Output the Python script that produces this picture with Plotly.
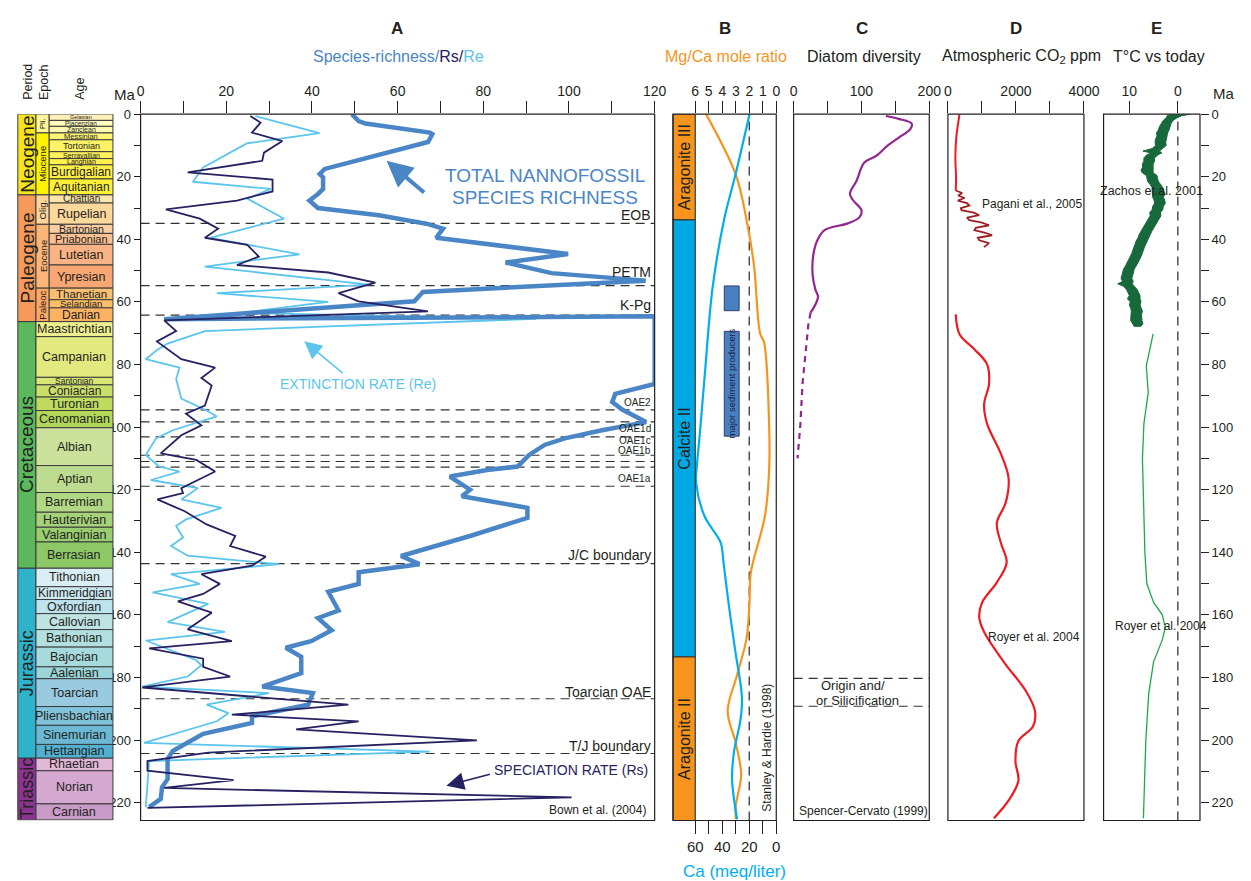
import plotly.graph_objects as go

W, H = 1251, 881
FONT = "Liberation Sans, Arial, Helvetica, sans-serif"
INK = "#231f20"

# ---------------- geological time scale (Ma) ----------------
period_names = ["Neogene", "Paleogene", "Cretaceous", "Jurassic", "Triassic"]
period_top = [0.0, 25.8, 66.3, 145.1, 205.8]
period_base = [25.8, 66.3, 145.1, 205.8, 225.5]

epoch_names = ["Pli.", "Miocene", "Olig.", "Eocene", "Paleoc"]
epoch_top = [0.0, 6.0, 25.8, 35.2, 55.6]
epoch_base = [6.0, 25.8, 35.2, 55.6, 66.3]

age_names = ["Gelasian", "Piacenzian", "Zanclean", "Messinian", "Tortonian", "Serravallian",
             "Langhian", "Burdigalian", "Aquitanian", "Chattian", "Rupelian", "Bartonian",
             "Priabonian", "Lutetian", "Ypresian", "Thanetian", "Selandian", "Danian",
             "Maastrichtian", "Campanian", "Santonian", "Coniacian", "Turonian", "Cenomanian",
             "Albian", "Aptian", "Barremian", "Hauterivian", "Valanginian", "Berrasian",
             "Tithonian", "Kimmeridgian", "Oxfordian", "Callovian", "Bathonian", "Bajocian",
             "Aalenian", "Toarcian", "Pliensbachian", "Sinemurian", "Hettangian", "Rhaetian",
             "Norian", "Carnian"]
age_base = [2.0, 3.9, 6.0, 8.2, 12.0, 14.2, 16.2, 20.7, 25.8, 28.4,
            35.2, 38.1, 41.6, 48.2, 55.6, 59.3, 61.9, 66.3, 71.1, 84.1,
            86.5, 90.4, 94.7, 100.2, 112.3, 120.9, 127.2, 132.0, 136.7, 145.1,
            151.0, 155.1, 159.6, 164.7, 170.3, 176.6, 180.4, 189.3, 195.3, 201.4,
            205.8, 209.8, 220.4, 225.5]
age_top = [0.0] + age_base[:-1]

# ---------------- A: nannofossil species richness (Bown et al. 2004) ----------------
total_ma = [0.0, 2.2, 3.0, 5.9, 6.4, 8.9, 17.5, 19.1, 20.2, 23.9, 25.5, 27.6, 30.0, 32.3,
            35.0, 36.6, 39.5, 44.7, 47.4, 50.8, 53.2, 56.8, 59.8, 65.5, 64.6, 86.2, 89.4,
            92.0, 94.4, 98.4, 101.0, 103.6, 105.7, 108.9, 112.6, 113.7, 115.8, 120.0, 122.1,
            125.8, 129.0, 134.8, 141.2, 143.8, 146.4, 150.1, 152.6, 158.6, 161.0, 164.9,
            168.4, 170.5, 173.4, 178.6, 182.9, 185.0, 188.7, 192.4, 194.5, 198.0, 203.5,
            206.1, 212.5, 215.1, 218.8, 221.4]
total_n = [49.3, 50.9, 52.5, 67.5, 68.1, 67.1, 43.0, 41.8, 42.6, 42.6, 41.4, 39.4, 41.4, 55.6,
           66.7, 70.6, 69.0, 99.8, 85.2, 95.9, 117.9, 65.9, 63.9, 5.5, 120.0, 120.0, 110.8,
           110.1, 112.4, 118.0, 107.7, 99.0, 94.3, 90.7, 88.0, 80.9, 72.2, 76.9, 75.0,
           90.3, 90.3, 76.9, 60.8, 65.1, 50.9, 50.9, 43.8, 46.2, 41.4, 44.6,
           39.8, 33.9, 37.5, 37.5, 28.4, 40.2, 39.1, 26.0, 26.0, 14.6, 7.5,
           6.3, 6.3, 5.0, 4.7, 2.0]

rs_ma = [0.6, 2.7, 5.9, 8.6, 12.3, 14.9, 18.6, 20.9, 24.7, 27.6,
         30.4, 33.4, 36.6, 39.5, 41.8, 45.5, 48.2, 50.6, 53.8, 57.2,
         59.8, 63.0, 65.9, 69.3, 72.6, 78.3, 81.0, 84.3, 86.7, 93.1,
         95.7, 99.4, 102.6, 108.4, 110.5, 114.2, 119.5, 121.1, 123.1, 126.9,
         131.1, 134.8, 138.0, 141.4, 144.3, 147.0, 150.1, 153.3, 155.7, 159.3,
         164.6, 168.4, 170.7, 174.0, 176.6, 179.7, 183.2, 188.7, 191.9, 194.0,
         196.6, 200.1, 204.0, 206.7, 209.8, 212.8, 215.3, 218.3, 221.7]
rs_n = [25.6, 28.0, 26.0, 33.1, 28.8, 28.4, 11.0, 30.8, 30.8, 22.5,
        5.9, 13.8, 18.1, 15.0, 24.9, 27.6, 22.5, 43.8, 54.8, 46.2,
        50.9, 67.1, 5.5, 8.3, 3.8, 9.5, 17.4, 14.2, 16.6, 15.0,
        10.6, 14.2, 9.5, 4.7, 13.0, 17.4, 9.5, 9.9, 3.9, 10.3,
        15.4, 22.1, 20.9, 29.2, 26.0, 14.2, 18.5, 14.6, 8.7, 16.6,
        11.0, 21.3, 2.0, 14.6, 14.6, 20.9, 0.4, 48.5, 21.3, 50.9,
        36.3, 78.5, 15.8, 1.6, 1.6, 21.7, 5.5, 100.6, 1.6]

re_ma = [0.6, 6.1, 9.3, 17.0, 21.6, 23.9, 27.0, 33.4, 39.5, 41.8,
         44.8, 48.7, 54.5, 57.2, 60.0, 63.5, 65.4, 69.3, 73.3, 75.6,
         78.3, 81.0, 84.6, 90.9, 94.7, 96.6, 101.0, 103.6, 108.9, 112.6,
         114.2, 116.9, 119.5, 123.1, 125.8, 129.5, 131.6, 135.3, 138.0, 141.1,
         143.8, 147.0, 150.1, 152.8, 156.5, 162.3, 165.4, 168.2, 174.5, 176.1,
         179.7, 182.9, 185.0, 188.7, 191.4, 194.0, 200.9, 203.7, 206.7, 221.5]
re_n = [26.8, 41.8, 24.9, 14.6, 12.2, 30.4, 24.9, 33.5, 16.2, 25.6,
        37.1, 15.0, 53.3, 17.8, 43.8, 23.3, 92.3, 15.0, 6.3, 3.6,
        1.2, 9.1, 8.3, 9.5, 15.4, 17.8, 7.5, 3.6, 1.2, 4.3,
        9.1, 2.4, 13.4, 9.5, 18.9, 10.6, 8.3, 9.9, 7.1, 11.0,
        32.3, 7.1, 13.8, 2.8, 15.8, 6.3, 19.7, 1.2, 13.0, 14.2,
        11.0, 0.4, 30.0, 15.4, 20.5, 17.8, 0.8, 67.5, 2.0, 1.2]

event_names = ["EOB", "PETM", "K-Pg", "OAE2", "OAE1d", "OAE1c", "OAE1b", "", "", "OAE1a",
               "J/C boundary", "Toarcian OAE", "T/J boundary"]
event_ma = [34.9, 54.8, 64.2, 94.5, 98.3, 103.1, 109.0, 111.0, 112.8, 118.9, 143.6, 186.8, 204.3]

# ---------------- B: seawater chemistry (Stanley & Hardie 1998) ----------------
sea_names = ["Aragonite III", "Calcite II", "Aragonite II"]
sea_top = [0.0, 33.8, 173.4]
sea_base = [33.8, 173.4, 225.7]

mgca_ma = [0, 19.3, 33.8, 48.3, 70, 73, 99, 113.8, 128.4, 142.8, 147, 157.4, 167.5,
           179.2, 190.8, 201, 211, 221, 225.3]
mgca = [5.2, 3.0, 2.2, 1.65, 1.2, 0.9, 0.53, 0.53, 0.84, 1.7, 1.9, 2.0, 2.2,
        2.9, 3.6, 3.0, 2.6, 3.0, 3.0]

ca_ma = [0, 19.3, 33.8, 55.6, 84.6, 103.5, 110.8, 118, 128.4, 137, 142.8, 157.4, 172,
         186.5, 193.8, 204, 212.8, 225.3]
ca = [19.8, 30.2, 38.7, 47.2, 53.2, 56.9, 58.5, 59.3, 53.2, 41.1, 39.2, 35, 30.2,
      25.4, 26.6, 31.4, 32.7, 29]

producer_top = [54.9, 69.4]
producer_base = [62.8, 102.9]

# ---------------- C: diatom diversity (Spencer-Cervato 1999) ----------------
diatom_ma = [0.6, 1.5, 3.0, 4.8, 7.5, 10.0, 13.3, 15.5, 21.2, 25.4, 27.6, 30.7, 33.0,
             34.9, 37.0, 40.3, 45.0, 51.3, 56.0, 58.3, 60.9, 63.4]
diatom_n = [136, 155, 174, 172, 155, 139, 122, 104, 93, 83, 88, 100, 97,
            80, 46, 35, 29, 28, 32, 36, 32, 25]
diatom_early_ma = [63.4, 67.2, 76.8, 86.3, 99.0, 110.0]
diatom_early_n = [25, 21.7, 17.4, 13.0, 10.0, 5.8]
origin_ma = [180.3, 189.2]

# ---------------- D: atmospheric CO2 ----------------
co2_young_ma = [0, 3, 6, 10, 15, 20, 24.4]
co2_young = [340, 300, 260, 230, 220, 240, 230]
pagani_ma = [24.4, 25.2, 26.0, 26.8, 27.6, 28.4, 29.2, 30.0, 30.7, 31.5, 32.3, 33.1, 33.9,
             34.7, 35.5, 36.3, 37.1, 37.9, 38.7, 39.5, 40.3, 41.2, 42.5]
pagani_co2 = [230, 420, 300, 490, 290, 560, 630, 380, 400, 760, 920, 560, 630,
              1000, 1210, 820, 780, 1100, 1300, 880, 920, 1210, 1060]
royer_co2_ma = [64, 70.4, 75.1, 79.9, 86.2, 92.6, 98.9, 108.4, 116.3, 124.2, 130.6, 136.9,
                143.3, 149.6, 156, 160.7, 165.5, 175, 184.5, 190.8, 195.6, 200.3, 206.7,
                213, 219.3, 225]
royer_co2 = [230, 345, 777, 1150, 1209, 1065, 1150, 1554, 1784, 1698, 1439, 1554,
             1727, 1439, 1007, 921, 1065, 1640, 2302, 2561, 2504, 2072, 1985,
             2072, 1784, 1353]

# ---------------- E: temperature relative to today ----------------
zachos_ma = [0.0, 0.5, 1.2, 2.0, 3.0, 4.0, 5.0, 6.0, 7.0, 8.0, 9.0, 10.0, 11.0, 11.8,
             12.4, 13.0, 14.0, 15.0, 16.0, 17.0, 18.0, 18.8, 19.6, 20.5, 21.5, 22.5,
             23.5, 24.5, 25.5, 26.5, 27.5, 28.5, 29.5, 30.5, 31.5, 32.5, 33.5, 34.5,
             35.5, 36.5, 37.5, 38.5, 39.5, 40.5, 41.5, 42.5, 43.5, 44.5, 45.5, 46.5,
             47.5, 48.5, 49.5, 50.5, 51.5, 52.5, 53.5, 54.2, 55.0, 56.0, 57.0, 58.0,
             59.0, 60.0, 61.0, 62.0, 63.0, 64.0, 65.0, 66.0, 67.0, 67.8]
zachos_warm = [1.4, 2.2, 2.4, 3.0, 3.4, 3.8, 4.0, 4.4, 4.3, 4.6, 4.7, 4.6, 5.3, 7.2,
               5.5, 6.4, 7.0, 7.0, 7.3, 7.3, 7.6, 7.3, 6.5, 6.4, 6.2, 5.7,
               5.3, 5.3, 5.3, 5.2, 4.9, 4.8, 5.2, 5.3, 5.8, 5.7, 6.1, 6.5,
               6.8, 7.2, 7.6, 8.0, 8.2, 8.6, 8.8, 9.1, 9.3, 9.5, 9.8, 10.1,
               10.4, 10.8, 11.2, 11.4, 11.5, 11.7, 11.4, 12.4, 11.2, 10.6, 10.3, 10.0,
               10.4, 9.8, 10.0, 9.7, 9.6, 9.7, 9.7, 9.7, 9.4, 9.0]
zachos_cool = [-2.6, -0.8, 0.2, 1.0, 1.4, 1.6, 1.8, 2.1, 2.2, 2.4, 2.5, 2.4, 3.1, 3.8,
               3.3, 4.1, 4.8, 4.8, 5.1, 5.1, 5.1, 5.1, 4.3, 4.2, 4.0, 3.5,
               3.1, 3.0, 2.6, 3.0, 2.7, 2.6, 3.0, 3.1, 3.6, 3.5, 3.9, 4.3,
               4.6, 5.0, 5.4, 5.8, 6.0, 6.4, 6.6, 6.9, 7.1, 7.3, 7.6, 7.9,
               8.2, 8.6, 9.0, 9.2, 9.3, 9.5, 9.2, 9.4, 9.0, 8.4, 8.1, 7.8,
               7.8, 7.6, 7.8, 7.5, 7.3, 7.5, 7.4, 7.4, 7.2, 7.6]
royer_t_ma = [70.2, 80.4, 88.9, 98.9, 110, 125, 140, 150, 156, 160, 164, 168, 175, 185,
              200, 215, 225]
royer_t = [5.1, 6.5, 6.1, 7.0, 7.3, 7.0, 6.8, 6.4, 5.0, 3.2, 2.6, 3.2, 5.0, 6.0,
           6.6, 6.9, 7.1]

# ---------------- styling ----------------
C_TOTAL, C_RS, C_RE = "#4a86c6", "#262262", "#5bc5ec"
C_ORANGE, C_CYAN = "#f7941d", "#00aeef"
C_CALCITE = "#00a9e4"
C_PURPLE, C_RED, C_DARKRED = "#92278f", "#ed1c24", "#9e1f24"
C_ZACHOS, C_ROYER_T = "#17683a", "#1ea84a"

period_colors = {"Neogene": "#f5e31c", "Paleogene": "#f59a5a", "Cretaceous": "#5cb85c",
                 "Jurassic": "#2fb3ca", "Triassic": "#8c3590"}
epoch_colors = {"Pli.": "#fff59a", "Miocene": "#fff200", "Olig.": "#fdd49a",
                "Eocene": "#fbb579", "Paleoc": "#fba864"}
age_colors = {
    "Gelasian": "#fff1b8", "Piacenzian": "#fffbbd", "Zanclean": "#fff9b0", "Messinian": "#fff475",
    "Tortonian": "#fff266", "Serravallian": "#fff15a", "Langhian": "#fff04e", "Burdigalian": "#fff043",
    "Aquitanian": "#ffef36", "Chattian": "#fde5ab", "Rupelian": "#fdd89b", "Bartonian": "#fbcda3",
    "Priabonian": "#fbc092", "Lutetian": "#f9b384", "Ypresian": "#f8a674", "Thanetian": "#fbbf72",
    "Selandian": "#fcbd67", "Danian": "#fbb263", "Maastrichtian": "#eef08e", "Campanian": "#e2e97f",
    "Santonian": "#d7e575", "Coniacian": "#cbe06a", "Turonian": "#bedb60", "Cenomanian": "#b2d657",
    "Albian": "#cbe19c", "Aptian": "#bedc8f", "Barremian": "#b2d784", "Hauterivian": "#a6d27a",
    "Valanginian": "#9acd70", "Berrasian": "#8dc766", "Tithonian": "#d9eef4", "Kimmeridgian": "#cbe8f1",
    "Oxfordian": "#bfe3ee", "Callovian": "#bee3e3", "Bathonian": "#b3dfe1", "Bajocian": "#a7dadd",
    "Aalenian": "#9bd5da", "Toarcian": "#98cbe0", "Pliensbachian": "#82c2db", "Sinemurian": "#6bb9d5",
    "Hettangian": "#52b0d0", "Rhaetian": "#e2b8d9", "Norian": "#d4a8d0", "Carnian": "#c89ac8"}
age_font = {"Gelasian": 5.5, "Piacenzian": 6.5, "Zanclean": 7, "Messinian": 7.5, "Tortonian": 9,
            "Serravallian": 7, "Langhian": 7, "Burdigalian": 12, "Aquitanian": 12, "Chattian": 10,
            "Bartonian": 10.5, "Priabonian": 11, "Thanetian": 11.5, "Selandian": 9.5, "Danian": 12,
            "Santonian": 8.5, "Coniacian": 12, "Kimmeridgian": 12}

Y_TOP, Y_BOT = 108.0, 820.0
MA_MAX = 225.7
A_LEFT, A_RIGHT = 135.2, 659.3


def fx(p):
    return p / W


def fy(p):
    return 1 - p / H


fig = go.Figure()
shapes = []
ann = []


def add_line(x, y, xa, ya, color, width, shape="linear", dash="solid"):
    fig.add_trace(go.Scatter(x=x, y=y, xaxis=xa, yaxis=ya, mode="lines",
                             line=dict(color=color, width=width, shape=shape, dash=dash),
                             hoverinfo="skip", showlegend=False))


def text(x, y, s, size=13, color=INK, xanchor="center", yanchor="middle", angle=0,
         xref="paper", yref="paper", yshift=0, family=FONT):
    ann.append(dict(x=x, y=y, xref=xref, yref=yref, text=s, showarrow=False,
                    xanchor=xanchor, yanchor=yanchor, textangle=angle, yshift=yshift,
                    font=dict(family=family, size=size, color=color)))


def box_px(x0, x1, y0=Y_TOP, y1=Y_BOT, width=1.2):
    shapes.append(dict(type="rect", xref="paper", yref="paper", x0=fx(x0), x1=fx(x1),
                       y0=fy(y1), y1=fy(y0), line=dict(color=INK, width=width),
                       fillcolor="rgba(0,0,0,0)", layer="above"))


def band_ma(x0, x1, top, base, fill, width=1.0, layer="below"):
    shapes.append(dict(type="rect", xref="paper", yref="y", x0=fx(x0), x1=fx(x1),
                       y0=top, y1=base, fillcolor=fill, layer=layer,
                       line=dict(color="#3a3a3a", width=width)))


# ---------------- time scale column ----------------
for name, t, b in zip(period_names, period_top, period_base):
    band_ma(10, 28.5, t, b, period_colors[name], layer="above")
    text(fx(19.5), (t + b) / 2, name, size=18 if name in ("Jurassic", "Triassic") else 19,
         angle=-90, yref="y")
for name, t, b in zip(epoch_names, epoch_top, epoch_base):
    band_ma(28.5, 42, t, b, epoch_colors[name], layer="above")
    text(fx(35.5), (t + b) / 2, name, size=8 if name == "Pli." else 9.5, angle=-90, yref="y")
for name, t, b in zip(age_names, age_top, age_base):
    cenozoic = b <= epoch_base[-1]
    x0 = 42 if cenozoic else 28.5
    band_ma(x0, 107, t, b, age_colors[name], layer="above")
    text(fx((x0 + 107) / 2), (t + b) / 2, name, size=age_font.get(name, 12.5), yref="y")

text(fx(21), fy(96), "Period", size=12.5, angle=-90, yanchor="bottom")
text(fx(36), fy(96), "Epoch", size=12.5, angle=-90, yanchor="bottom")
text(fx(74), fy(96), "Age", size=12.5, angle=-90, yanchor="bottom")
text(fx(119), fy(88), "Ma", size=15)
text(fx(1239), fy(87), "Ma", size=15)

# ---------------- panel A ----------------
add_line(re_n, re_ma, "x", "y", C_RE, 1.8)
add_line(total_n, total_ma, "x", "y", C_TOTAL, 4.5)
add_line(rs_n, rs_ma, "x", "y", C_RS, 1.8)

label_shift = {"EOB": 8, "PETM": 14, "K-Pg": 10, "OAE2": 7, "OAE1d": -7, "OAE1c": -4,
               "OAE1b": 5, "OAE1a": 8, "J/C boundary": 9, "Toarcian OAE": 7, "T/J boundary": 8}
for name, m in zip(event_names, event_ma):
    shapes.append(dict(type="line", xref="paper", yref="y", x0=fx(A_LEFT), x1=fx(A_RIGHT),
                       y0=m, y1=m, line=dict(color="#333333", width=1.2, dash="9px,6px"),
                       layer="below"))
    if name:
        small = name.startswith("OAE")
        text(fx(A_RIGHT - 2), m, name, size=10 if small else 14, xanchor="right", yref="y",
             yshift=label_shift[name])

text(fx(548), fy(170), "TOTAL NANNOFOSSIL", size=19, color=C_TOTAL)
text(fx(548), fy(192), "SPECIES RICHNESS", size=19, color=C_TOTAL)
text(fx(357), fy(380), "EXTINCTION RATE (Re)", size=14, color=C_RE)
text(fx(655), fy(769), "SPECIATION RATE (Rs)", size=14, color=C_RS, xanchor="right")
text(fx(653), fy(809), "Bown et al. (2004)", size=12, xanchor="right")


def arrow(hx, hy, tx, ty, color, width, size):
    ann.append(dict(x=fx(hx), y=fy(hy), xref="paper", yref="paper", text="", showarrow=True,
                    ax=tx - hx, ay=ty - hy, axref="pixel", ayref="pixel", arrowhead=2,
                    arrowsize=size, arrowwidth=width, arrowcolor=color, standoff=0))


arrow(386, 155, 425, 188, C_TOTAL, 4, 1.3)
arrow(302, 337, 342, 370, C_RE, 1.6, 2.2)
arrow(447, 785, 492, 773, C_RS, 1.6, 2.2)

# ---------------- panel B ----------------
for name, t, b in zip(sea_names, sea_top, sea_base):
    fill = C_CALCITE if name.startswith("Calcite") else C_ORANGE
    band_ma(678, 700.7, t, b, fill, width=1.2, layer="above")
    text(fx(689.5), (t + b) / 2, name, size=16, angle=-90, yref="y")
for t, b in zip(producer_top, producer_base):
    shapes.append(dict(type="rect", xref="x2", yref="y", x0=3.85, x1=2.75, y0=t, y1=b,
                       fillcolor="#4a7fc1", line=dict(color="#2e3f73", width=1), layer="below"))
text(3.3, (producer_top[1] + producer_base[1]) / 2, "major sediment producers", size=9.5,
     color="#1b1f4a", angle=-90, xref="x2", yref="y")
shapes.append(dict(type="line", xref="x2", yref="paper", x0=2, x1=2, y0=fy(Y_BOT), y1=fy(Y_TOP),
                   line=dict(color="#444444", width=1.4, dash="9px,6px"), layer="below"))
add_line(mgca, mgca_ma, "x2", "y", C_ORANGE, 2.2, shape="spline")
add_line(ca, ca_ma, "x3", "y", C_CYAN, 2.2, shape="spline")
text(fx(773), fy(813), "Stanley &amp; Hardie (1998)", size=12, angle=-90, yanchor="bottom")
text(fx(741), fy(871), "Ca (meq/liter)", size=17, color=C_CYAN)

# ---------------- panel C ----------------
add_line(diatom_n, diatom_ma, "x4", "y", C_PURPLE, 2.2, shape="spline")
add_line(diatom_early_n, diatom_early_ma, "x4", "y", C_PURPLE, 2.2, dash="6px,5px")
for m in origin_ma:
    shapes.append(dict(type="line", xref="paper", yref="y", x0=fx(801), x1=fx(939.3), y0=m, y1=m,
                       line=dict(color="#333333", width=1.2, dash="9px,6px"), layer="below"))
text(fx(862), fy(684), "Origin and/", size=13)
text(fx(866), fy(699), "or Silicification", size=13)
text(fx(872), fy(810), "Spencer-Cervato (1999)", size=12)

# ---------------- panel D ----------------
add_line(co2_young, co2_young_ma, "x5", "y", C_RED, 2, shape="spline")
add_line(pagani_co2, pagani_ma, "x5", "y", C_DARKRED, 1.8)
add_line(royer_co2, royer_co2_ma, "x5", "y", C_RED, 2.2, shape="spline")
text(fx(1044), fy(199), "Pagani et al., 2005", size=12)
text(fx(1046), fy(635), "Royer et al. 2004", size=12)

# ---------------- panel E ----------------
fig.add_trace(go.Scatter(x=zachos_warm + zachos_cool[::-1], y=zachos_ma + zachos_ma[::-1],
                         xaxis="x6", yaxis="y2", mode="lines", fill="toself",
                         fillcolor=C_ZACHOS, line=dict(color=C_ZACHOS, width=1),
                         hoverinfo="skip", showlegend=False))
add_line(royer_t, royer_t_ma, "x6", "y2", C_ROYER_T, 1.3)
shapes.append(dict(type="line", xref="x6", yref="paper", x0=0, x1=0, y0=fy(Y_BOT), y1=fy(Y_TOP),
                   line=dict(color="#444444", width=1.4, dash="9px,6px"), layer="below"))
text(fx(1166), fy(185), "Zachos et.al. 2001", size=12.5)
text(fx(1176), fy(624), "Royer et al. 2004", size=12)

# ---------------- panel frames and titles ----------------
for x0, x1 in [(A_LEFT, A_RIGHT), (678, 783.3), (801, 939.3), (958.3, 1097), (1117, 1215.3)]:
    box_px(x0, x1)

for letter, cx in [("A", 397), ("B", 731), ("C", 871), ("D", 1028), ("E", 1171)]:
    text(fx(cx), fy(22), "<b>%s</b>" % letter, size=17)
text(fx(398), fy(50),
     '<span style="color:%s">Species-richness/</span><span style="color:%s">Rs/</span>'
     '<span style="color:%s">Re</span>' % (C_TOTAL, C_RS, C_RE), size=16)
text(fx(732), fy(50), "Mg/Ca mole ratio", size=16, color=C_ORANGE)
text(fx(873), fy(50), "Diatom diversity", size=16)
text(fx(1033), fy(50), "Atmospheric CO<sub>2</sub> ppm", size=16)
text(fx(1174), fy(50), "T°C vs today", size=16)

# ---------------- axes ----------------
TICKFONT = dict(family=FONT, size=14, color=INK)


def top_axis(x0, x1, rng, vals, labels):
    return dict(domain=[fx(x0), fx(x1)], range=rng, side="top", anchor="y",
                tickmode="array", tickvals=vals, ticktext=labels, ticks="outside",
                ticklen=12, tickwidth=1.1, tickcolor=INK, showgrid=False, zeroline=False,
                showline=False, tickfont=TICKFONT, fixedrange=True)


a_vals = list(range(0, 121, 10))
ma_vals = list(range(0, 221, 10))
ma_text = [str(v) if v % 20 == 0 else "" for v in ma_vals]

fig.update_layout(
    width=W, height=H, margin=dict(l=0, r=0, t=0, b=0),
    paper_bgcolor="white", plot_bgcolor="rgba(0,0,0,0)",
    showlegend=False, font=dict(family=FONT, color=INK),
    xaxis=top_axis(A_LEFT, A_RIGHT, [0, 120], a_vals,
                   [str(v) if v % 20 == 0 else "" for v in a_vals]),
    xaxis2=top_axis(700.7, 783.3, [6, 0], list(range(7)), [str(v) for v in range(7)]),
    xaxis3=dict(domain=[fx(700.7), fx(783.3)], range=[60, 0], side="bottom", anchor="y",
                overlaying="x2", tickmode="array", tickvals=list(range(0, 61, 10)),
                ticktext=["0", "", "20", "", "40", "", "60"], ticks="outside", ticklen=13,
                tickwidth=1.1, tickcolor=INK, showgrid=False, zeroline=False, showline=False,
                tickfont=dict(family=FONT, size=15, color=INK), fixedrange=True),
    xaxis4=top_axis(801, 939.3, [0, 200], [0, 50, 100, 150, 200], ["0", "", "100", "", "200"]),
    xaxis5=top_axis(958.3, 1097, [0, 4000], [0, 1000, 2000, 3000, 4000],
                    ["0", "", "2000", "", "4000"]),
    xaxis6=top_axis(1117, 1215.3, [15.32, -4.57], [10, 0], ["10", "0"]),
    yaxis=dict(domain=[fy(Y_BOT), fy(Y_TOP)], range=[MA_MAX, 0], anchor="free",
               position=fx(A_LEFT), side="left", tickmode="array", tickvals=ma_vals,
               ticktext=ma_text, ticks="outside", ticklen=7, tickwidth=1.1, tickcolor=INK,
               showgrid=False, zeroline=False, showline=False,
               tickfont=dict(family=FONT, size=13, color=INK), fixedrange=True),
    yaxis2=dict(range=[MA_MAX, 0], overlaying="y", anchor="free", position=fx(1215.3),
                side="right", tickmode="array", tickvals=ma_vals, ticktext=ma_text,
                ticks="outside", ticklen=8, tickwidth=1.1, tickcolor=INK, showgrid=False,
                zeroline=False, showline=False, tickfont=dict(family=FONT, size=13, color=INK),
                fixedrange=True),
    shapes=shapes, annotations=ann,
)

fig.write_html("out.html")
